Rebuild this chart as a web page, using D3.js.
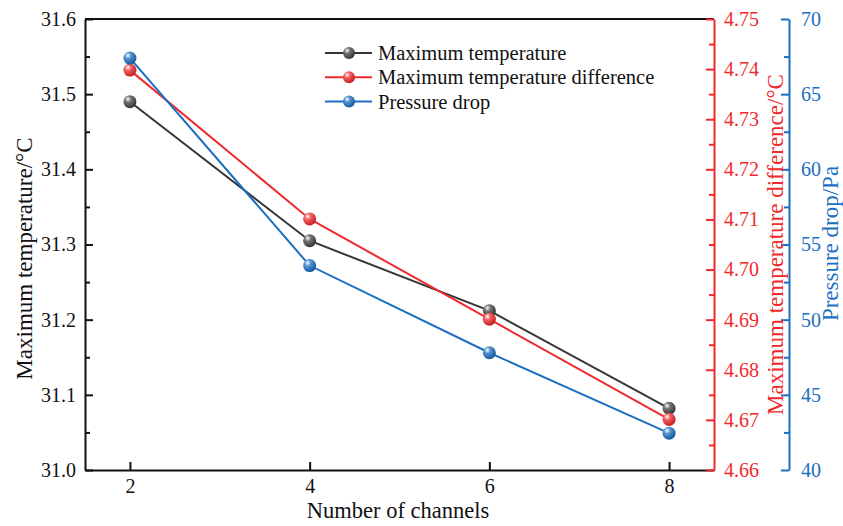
<!DOCTYPE html>
<html><head><meta charset="utf-8">
<script src="https://cdn.jsdelivr.net/npm/d3@7"></script>
<style>body{margin:0;background:#fff}svg text{font-family:"Liberation Serif","Times New Roman",Tinos,serif !important}</style>
</head><body>
<svg id="c" width="843" height="526"></svg>
<script>
const channels = [2, 4, 6, 8];
const maxTemp = [31.49, 31.305, 31.212, 31.082];
const maxTempDiff = [4.7398, 4.7101, 4.6901, 4.6701];
const pressureDrop = [67.4, 53.6, 47.8, 42.45];
const leftTicks = [31.0, 31.1, 31.2, 31.3, 31.4, 31.5, 31.6];
const redTicks = [4.66, 4.67, 4.68, 4.69, 4.70, 4.71, 4.72, 4.73, 4.74, 4.75];
const blueTicks = [40, 45, 50, 55, 60, 65, 70];
const xTicks = [2, 4, 6, 8];
const seriesNames = ["Maximum temperature", "Maximum temperature difference", "Pressure drop"];

const BLACK = "#363636", RED = "#f02a2c", BLUE = "#1b6fc2";
const FONT = '"Liberation Serif","Times New Roman",Tinos,serif';
const svg = d3.select("#c");
const L = 85, R = 714, B2 = 789, T = 19, Bt = 470;
const x = d3.scaleLinear().domain([1.5, 8.5]).range([L, R]);
const yL = d3.scaleLinear().domain([31.0, 31.6]).range([Bt, T]);
const yR = d3.scaleLinear().domain([4.66, 4.75]).range([Bt, T]);
const yB = d3.scaleLinear().domain([40, 70]).range([Bt, T]);

const defs = svg.append("defs");
function grad(id, c) {
  const g = defs.append("radialGradient").attr("id", id).attr("cx", "35%").attr("cy", "30%").attr("r", "70%");
  g.append("stop").attr("offset", "0%").attr("stop-color", "#fff");
  g.append("stop").attr("offset", "35%").attr("stop-color", d3.interpolateRgb(c, "#fff")(0.25));
  g.append("stop").attr("offset", "100%").attr("stop-color", d3.color(c).darker(0.6));
}
grad("gK", "#444"); grad("gR", RED); grad("gB", BLUE);

function minor(arr) {
  const out = [];
  for (let i = 0; i < arr.length - 1; i++) out.push((arr[i] + arr[i + 1]) / 2);
  return out;
}
function styleAxis(g, color) {
  g.attr("font-family", null);
  g.selectAll("path,line").attr("stroke", color).attr("stroke-width", 2);
  g.selectAll("text").attr("font-size", 20).attr("fill", color).style("font-family", FONT);
}

svg.append("line").attr("x1", L).attr("x2", R).attr("y1", T).attr("y2", T).attr("stroke", "#111").attr("stroke-width", 2);

const gl = svg.append("g").attr("transform", `translate(${L},0)`);
gl.call(d3.axisLeft(yL).tickValues(leftTicks).tickFormat(d3.format(".1f")).tickSizeInner(-8).tickSizeOuter(0).tickPadding(9));
gl.append("g").call(d3.axisLeft(yL).tickValues(minor(leftTicks)).tickFormat("").tickSizeInner(-5).tickSizeOuter(0)).select(".domain").remove();
styleAxis(gl, "#111");

const gb = svg.append("g").attr("transform", `translate(0,${Bt})`);
gb.call(d3.axisBottom(x).tickValues(xTicks).tickFormat(d3.format("d")).tickSizeInner(-8).tickSizeOuter(0).tickPadding(9));
styleAxis(gb, "#111");

const gr = svg.append("g").attr("transform", `translate(${R},0)`);
gr.call(d3.axisRight(yR).tickValues(redTicks).tickFormat(d3.format(".2f")).tickSizeInner(-8).tickSizeOuter(0).tickPadding(10));
gr.append("g").call(d3.axisRight(yR).tickValues(minor(redTicks)).tickFormat("").tickSizeInner(-5).tickSizeOuter(0)).select(".domain").remove();
styleAxis(gr, RED);

const gbl = svg.append("g").attr("transform", `translate(${B2},0)`);
gbl.call(d3.axisRight(yB).tickValues(blueTicks).tickFormat(d3.format("d")).tickSizeInner(-8).tickSizeOuter(0).tickPadding(12));
gbl.append("g").call(d3.axisRight(yB).tickValues(minor(blueTicks)).tickFormat("").tickSizeInner(-5).tickSizeOuter(0)).select(".domain").remove();
styleAxis(gbl, BLUE);

function title(tr, txt, color, size) {
  svg.append("text").attr("transform", tr).attr("text-anchor", "middle")
    .attr("font-size", size).attr("fill", color).style("font-family", FONT).text(txt);
}
title(`translate(32,${(T + Bt) / 2 + 14}) rotate(-90)`, "Maximum temperature/°C", "#111", 23);
title(`translate(398,518)`, "Number of channels", "#111", 22.5);
title(`translate(783,${(T + Bt) / 2}) rotate(-90)`, "Maximum temperature difference/°C", RED, 23);
title(`translate(838,${(T + Bt) / 2 - 1}) rotate(-90)`, "Pressure drop/Pa", BLUE, 23);

const series = [
  { vals: maxTemp, y: yL, c: BLACK, g: "gK" },
  { vals: maxTempDiff, y: yR, c: RED, g: "gR" },
  { vals: pressureDrop, y: yB, c: BLUE, g: "gB" }
];
series.forEach(s => {
  const pts = channels.map((c, i) => [x(c), s.y(s.vals[i])]);
  svg.append("path").attr("d", d3.line()(pts)).attr("fill", "none").attr("stroke", s.c).attr("stroke-width", 2);
});
series.forEach(s => {
  svg.selectAll(null).data(channels).enter().append("circle")
    .attr("cx", c => x(c)).attr("cy", (c, i) => s.y(s.vals[i])).attr("r", 6.5)
    .attr("fill", `url(#${s.g})`);
});

series.forEach((s, i) => {
  const yy = 53 + i * 24.3;
  svg.append("line").attr("x1", 325).attr("x2", 372).attr("y1", yy).attr("y2", yy).attr("stroke", s.c).attr("stroke-width", 2);
  svg.append("circle").attr("cx", 349).attr("cy", yy).attr("r", 6).attr("fill", `url(#${s.g})`);
  svg.append("text").attr("x", 378).attr("y", yy + 7).attr("font-size", 20.5).attr("fill", "#111").style("font-family", FONT).text(seriesNames[i]);
});
</script>
</body></html>
